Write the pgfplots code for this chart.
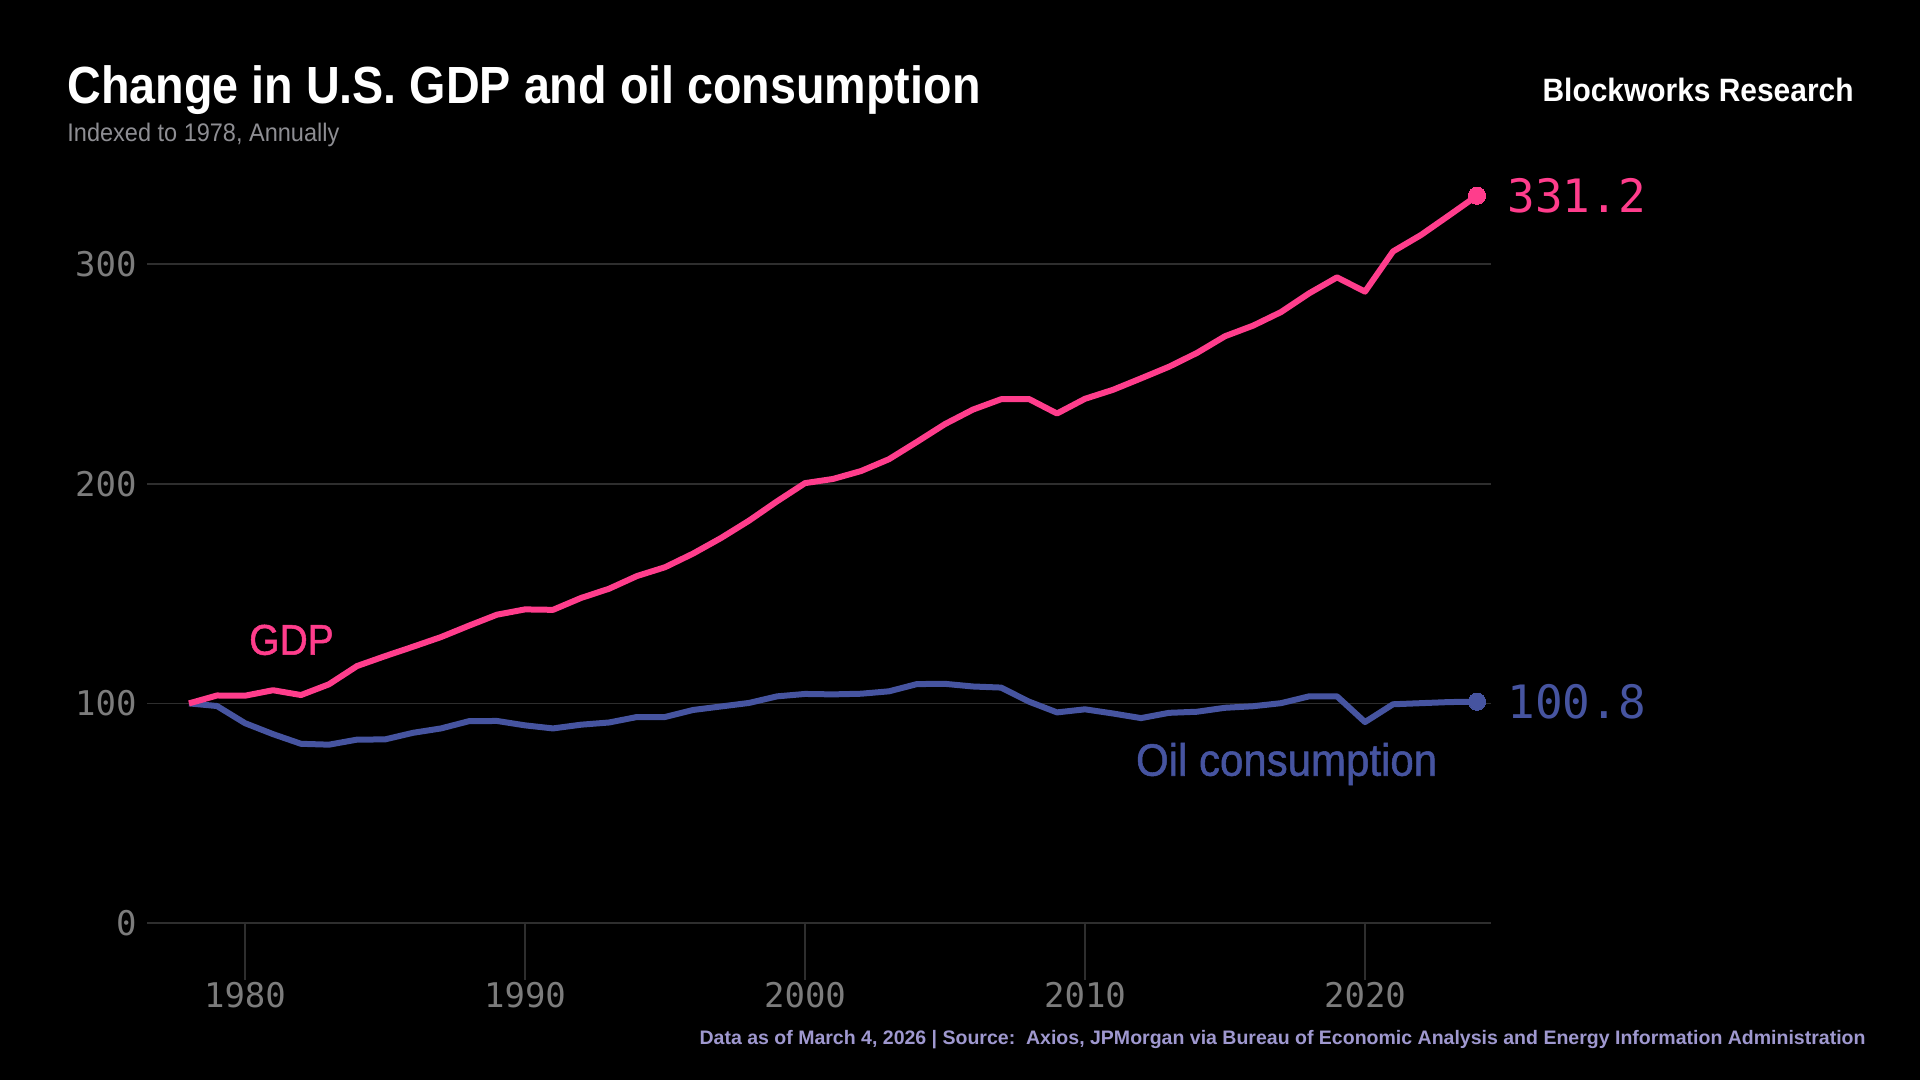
\documentclass[border=0pt]{standalone}
\usepackage{pgfplots}
\pgfplotsset{compat=1.18}
\usepackage{fontspec}
\setmainfont{Liberation Sans}
\newfontfamily\monofont{DejaVu Sans Mono}
\newfontfamily\labfont[FakeBold=1.2]{Liberation Sans}
\definecolor{gdppink}{HTML}{FF3D8C}
\definecolor{oilblue}{HTML}{4654A0}
\definecolor{gridgray}{HTML}{2E2E2E}
\definecolor{tickgray}{HTML}{7C7C7C}
\definecolor{subgray}{HTML}{8E8E93}
\definecolor{footcol}{HTML}{9F98CF}
\begin{document}
\begin{tikzpicture}
\fill[black] (0,0) rectangle (960pt,540pt);
\begin{axis}[
  at={(73.5pt,78.5pt)}, anchor=south west,
  scale only axis, width=672pt, height=384.3pt,
  xmin=1976.5, xmax=2024.5, ymin=0, ymax=350,
  clip=false,
  axis line style={draw=none},
  major tick length=0pt,
  xtick={1980,1990,2000,2010,2020},
  xticklabels={1980,1990,2000,2010,2020},
  ytick={0,100,200,300},
  yticklabels={0,100,200,300},
  xtick pos=bottom, ytick pos=left,
  ymajorgrids,
  grid style={draw=gridgray, line width=0.75pt},
  tick label style={font=\fontsize{17}{17}\monofont, text=tickgray},
  xticklabel style={anchor=center, inner sep=0pt, yshift=-36.25pt},
  yticklabel style={anchor=east, inner sep=0pt, xshift=-5pt},
]
\draw[gridgray, line width=0.75pt] (axis cs:1980,0) -- ([yshift=-28.5pt]axis cs:1980,0);
\draw[gridgray, line width=0.75pt] (axis cs:1990,0) -- ([yshift=-28.5pt]axis cs:1990,0);
\draw[gridgray, line width=0.75pt] (axis cs:2000,0) -- ([yshift=-28.5pt]axis cs:2000,0);
\draw[gridgray, line width=0.75pt] (axis cs:2010,0) -- ([yshift=-28.5pt]axis cs:2010,0);
\draw[gridgray, line width=0.75pt] (axis cs:2020,0) -- ([yshift=-28.5pt]axis cs:2020,0);
\addplot[oilblue, line width=3pt, line join=round, mark=*, mark indices={47}, mark size=4.3pt, mark options={solid, fill=oilblue, draw=oilblue, line width=0pt}] coordinates {
(1978,100) (1979,98.8) (1980,91) (1981,86) (1982,81.6) (1983,81.2) (1984,83.5) (1985,83.6)
(1986,86.6) (1987,88.6) (1988,91.9) (1989,92) (1990,90) (1991,88.6) (1992,90.3) (1993,91.3)
(1994,93.8) (1995,93.8) (1996,97) (1997,98.6) (1998,100.2) (1999,103.2) (2000,104.3) (2001,104.1)
(2002,104.4) (2003,105.5) (2004,108.8) (2005,108.9) (2006,107.7) (2007,107.2) (2008,100.8) (2009,95.9)
(2010,97.3) (2011,95.4) (2012,93.3) (2013,95.7) (2014,96.2) (2015,98) (2016,98.7) (2017,100.1)
(2018,103.2) (2019,103.2) (2020,91.5) (2021,99.6) (2022,100.1) (2023,100.6) (2024,100.8)
};
\addplot[gdppink, line width=3pt, line join=round, mark=*, mark indices={47}, mark size=4.3pt, mark options={solid, fill=gdppink, draw=gdppink, line width=0pt}] coordinates {
(1978,100) (1979,103.6) (1980,103.5) (1981,106) (1982,103.8) (1983,108.7) (1984,117) (1985,121.5)
(1986,125.8) (1987,130.2) (1988,135.4) (1989,140.4) (1990,142.8) (1991,142.6) (1992,148) (1993,152.2)
(1994,158) (1995,162) (1996,168.2) (1997,175.3) (1998,183.2) (1999,192) (2000,200.3) (2001,202.2)
(2002,205.8) (2003,211.2) (2004,219.1) (2005,227.2) (2006,233.8) (2007,238.5) (2008,238.6) (2009,232)
(2010,238.7) (2011,242.8) (2012,248) (2013,253.3) (2014,259.6) (2015,267.2) (2016,272) (2017,278.2)
(2018,286.7) (2019,294) (2020,287.5) (2021,305.8) (2022,313.3) (2023,322.2) (2024,331.2)
};
\node[anchor=west, inner sep=0pt, xshift=15pt, text=gdppink, font=\fontsize{23}{23}\monofont] at (axis cs:2024,331.2) {331.2};
\node[anchor=west, inner sep=0pt, xshift=15pt, text=oilblue, font=\fontsize{23}{23}\monofont] at (axis cs:2024,100.8) {100.8};
\node[inner sep=0pt, text=gdppink, font=\fontsize{19.5}{20}\labfont] at (axis cs:1981.66,128.9) {\scalebox{1}[1.1]{GDP}};
\node[inner sep=0pt, text=oilblue, font=\fontsize{21}{22}\labfont] at (axis cs:2017.2,72.4) {\scalebox{1}[1.08]{Oil consumption}};
\end{axis}
\node[anchor=base west, inner sep=0pt, text=white] at (33.5pt,488pt) {\scalebox{1}[1.12]{\resizebox{456.5pt}{!}{\bfseries Change in U.S. GDP and oil consumption}}};
\node[anchor=base west, inner sep=0pt, text=subgray] at (33.5pt,469pt) {\scalebox{1}[1.08]{\resizebox{136pt}{!}{Indexed to 1978, Annually}}};
\node[anchor=base east, inner sep=0pt, text=white] at (927pt,489.2pt) {\scalebox{1}[1.08]{\resizebox{155.5pt}{!}{\bfseries Blockworks Research}}};
\node[anchor=base east, inner sep=0pt, text=footcol] at (933pt,17.75pt) {\resizebox{583pt}{!}{\bfseries Data as of March 4, 2026 | Source:\ \ Axios, JPMorgan via Bureau of Economic Analysis and Energy Information Administration}};
\pgfresetboundingbox
\path[use as bounding box] (0,0) rectangle (960pt,540pt);
\end{tikzpicture}
\end{document}
